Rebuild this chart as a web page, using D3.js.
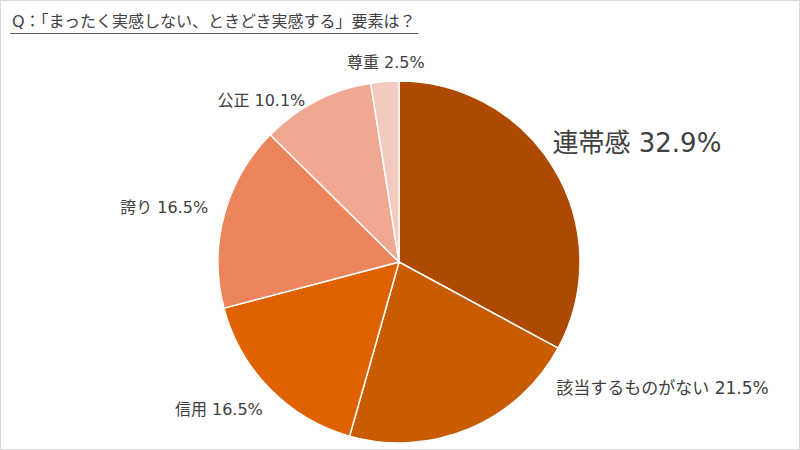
<!DOCTYPE html>
<html><head><meta charset="utf-8">
<script src="https://cdn.jsdelivr.net/npm/d3@7"></script>
<style>body{margin:0;background:#fff;}svg{display:block;font-family:"DejaVu Sans","Noto Sans CJK JP",sans-serif;}</style>
</head><body>
<svg id="c" width="800" height="450"></svg>
<script>
const categories = ["連帯感","該当するものがない","信用","誇り","公正","尊重"];
const values = [32.9, 21.5, 16.5, 16.5, 10.1, 2.5];
const colors = ["#AD4A00","#C95B00","#E06100","#EC845C","#F1A891","#F4C9C0"];
const title = "Q：「まったく実感しない、ときどき実感する」要素は？";

const svg = d3.select("#c");
svg.append("rect").attr("x",0.5).attr("y",0.5).attr("width",799).attr("height",449).attr("fill","#fff").attr("stroke","#d9d9d9");

const tt = svg.append("text").attr("x",12).attr("y",27).attr("fill","#404040").attr("font-size",16).text(title);
const bb = tt.node().getBBox();
svg.append("line").attr("x1",10).attr("x2",bb.x+bb.width+3).attr("y1",33.5).attr("y2",33.5).attr("stroke","#595959").attr("stroke-width",1);

const cx = 399, cy = 262, r = 181;
const data = categories.map((c,i)=>({name:c, value:values[i], color:colors[i]}));
const pie = d3.pie().value(d=>d.value).sort(null);
const arc = d3.arc().innerRadius(0).outerRadius(r);
const arcs = pie(data);
const g = svg.append("g").attr("transform",`translate(${cx},${cy})`);
g.selectAll("path").data(arcs).join("path")
  .attr("d",arc).attr("fill",d=>d.data.color).attr("stroke","#fff").attr("stroke-width",1.5);

// label layout: [anchor, dx, dy, fontSize] relative to the slice edge point
const labelLayout = [
  ["start",-2,-26,26],
  ["start",87,-41,17],
  ["end",-7,21,16],
  ["end",-16,-8,16],
  ["end",-11,-1,16],
  ["middle",1,-19,16]
];
arcs.forEach((a,i)=>{
  const m = (a.startAngle+a.endAngle)/2;
  const ex = Math.sin(m)*r, ey = -Math.cos(m)*r;
  const L = labelLayout[i];
  g.append("text").attr("x",ex+L[1]).attr("y",ey+L[2])
    .attr("text-anchor",L[0]).attr("dominant-baseline","central")
    .attr("font-size",L[3]).attr("fill","#404040")
    .text(`${a.data.name} ${a.data.value}%`);
});
</script>
</body></html>
